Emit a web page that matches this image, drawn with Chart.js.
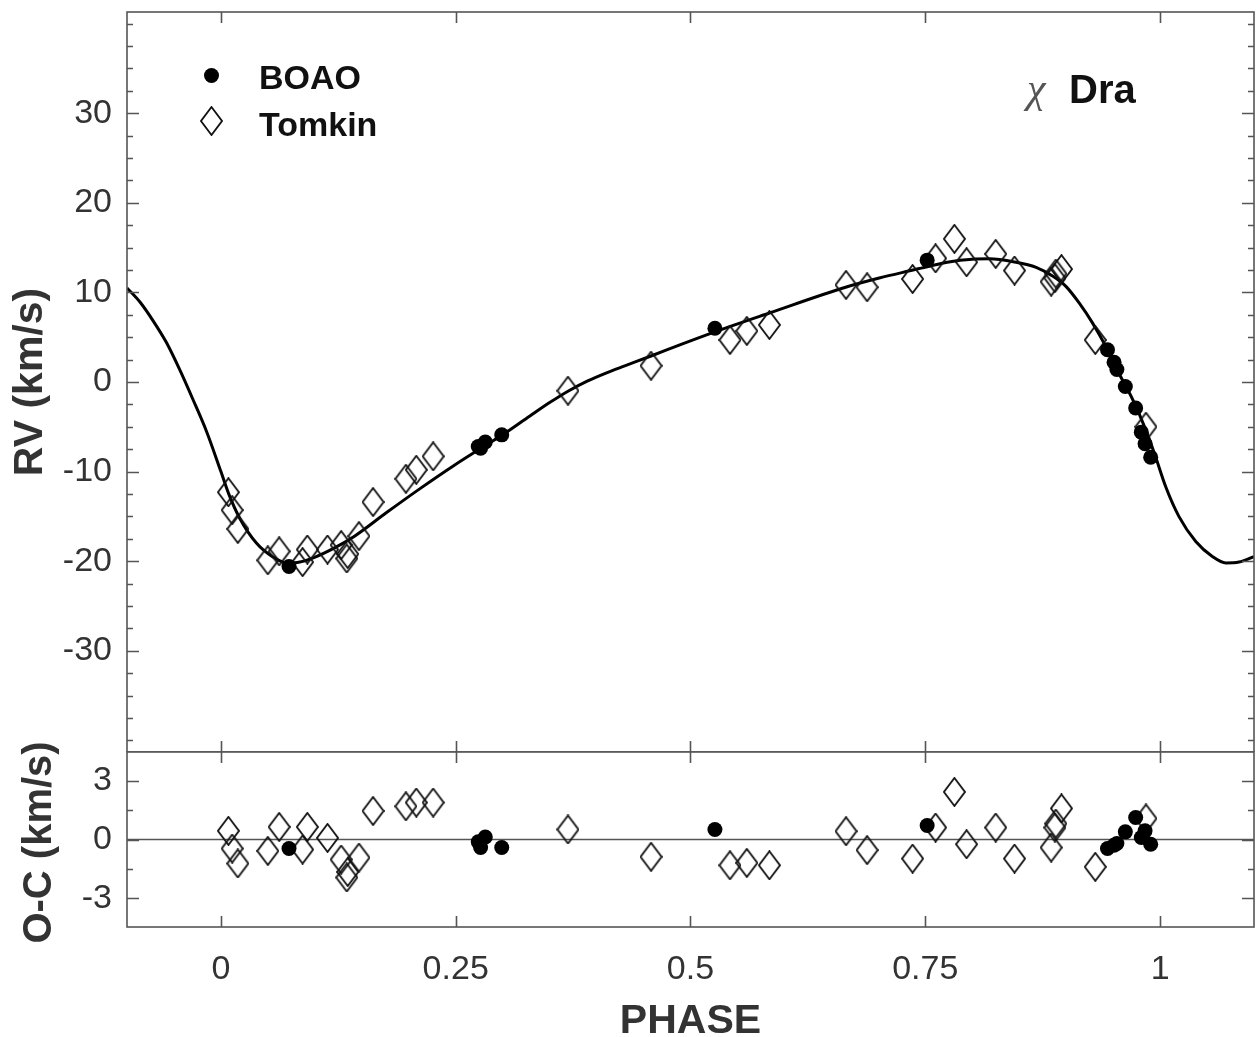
<!DOCTYPE html>
<html>
<head>
<meta charset="utf-8">
<script src="https://cdn.jsdelivr.net/npm/chart.js@4.4.1/dist/chart.umd.min.js"></script>
<style>
  html, body { margin: 0; padding: 0; background: #fff; }
  #wrap { position: relative; width: 1256px; height: 1037px; overflow: hidden; }
  #rvBox { position: absolute; left: 0; top: 0; width: 1256px; height: 752px; }
  #ocBox { position: absolute; left: 0; top: 740px; width: 1256px; height: 297px; }
</style>
</head>
<body>
<div id="wrap">
  <div id="rvBox"><canvas id="rvChart"></canvas></div>
  <div id="ocBox"><canvas id="ocChart"></canvas></div>
</div>
<script>
// axis ticks
const phaseTicks = [0, 0.25, 0.5, 0.75, 1]
const rvTicks = [-30, -20, -10, 0, 10, 20, 30]
const rvMinorTicks = [-40, -37.5, -35, -32.5, -27.5, -25, -22.5, -17.5, -15, -12.5, -7.5, -5, -2.5,
	2.5, 5, 7.5, 12.5, 15, 17.5, 22.5, 25, 27.5, 32.5, 35, 37.5, 40]
const ocTicks = [-3, 0, 3]
const ocMinorTicks = [-1.5, 1.5]

// orbit solution
const curvePhase = [-0.100, -0.086, -0.072, -0.058, -0.044, -0.030, -0.015, 0.000, 0.008, 0.020, 0.038, 0.055,
	0.070, 0.084, 0.099, 0.123, 0.141, 0.176, 0.212, 0.247, 0.283, 0.300, 0.329, 0.350, 0.370, 0.390, 0.410,
	0.430, 0.458, 0.490, 0.526, 0.584, 0.666, 0.701, 0.737, 0.753, 0.775, 0.800, 0.818, 0.845, 0.868, 0.886,
	0.900, 0.914, 0.928, 0.942, 0.956, 0.971, 0.985, 0.995, 1.006, 1.020, 1.038, 1.056, 1.070, 1.084, 1.100]
const curveRV = [10.5, 8.9, 6.8, 4.4, 1.4, -1.9, -5.6, -10.0, -12.4, -15.2, -18.0, -19.5,
	-20.2, -20.1, -19.6, -18.4, -17.3, -14.6, -11.9, -9.4, -7.0, -5.9, -3.8, -2.3, -1.0, 0.1, 1.0,
	1.8, 2.9, 4.2, 5.6, 7.7, 10.6, 11.6, 12.5, 12.9, 13.4, 13.7, 13.75, 13.4, 12.8, 11.8,
	10.65, 8.8, 6.6, 4.0, 1.0, -2.0, -5.4, -8.3, -11.7, -15.0, -17.8, -19.5, -20.2, -20.1, -19.5]

// BOAO
const boaoPhase = [0.0725, 0.274, 0.2765, 0.2815, 0.299, 0.526, 0.752, 0.944, 0.951, 0.954, 0.963, 0.974, 0.980, 0.984, 0.990]
const boaoRV = [-20.6, -7.2, -7.4, -6.7, -5.9, 6.0, 13.6, 3.6, 2.2, 1.4, -0.5, -2.9, -5.6, -6.9, -8.4]
const boaoOC = [-0.46, -0.12, -0.41, 0.13, -0.41, 0.51, 0.71, -0.46, -0.29, -0.2, 0.39, 1.12, 0.1, 0.44, -0.24]

// Tomkin
const tomkinPhase = [0.008, 0.012, 0.018, 0.050, 0.062, 0.087, 0.092, 0.1135, 0.128, 0.134, 0.135, 0.147,
	0.162, 0.197, 0.208, 0.226, 0.3695, 0.458, 0.542, 0.560, 0.584, 0.6656, 0.688, 0.7365, 0.761, 0.781,
	0.794, 0.825, 0.845, 0.884, 0.888, 0.889, 0.895, 0.931, 0.985]
const tomkinRV = [-12.3, -14.3, -16.4, -19.9, -18.9, -20.1, -18.7, -18.7, -18.2, -19.7, -19.2, -17.2,
	-13.4, -10.8, -9.8, -8.3, -0.97, 1.82, 4.69, 5.7, 6.37, 10.84, 10.58, 11.5, 13.8, 15.98,
	13.37, 14.3, 12.44, 11.2, 11.6, 12.1, 12.6, 4.69, -4.99]
const tomkinOC = [0.44, -0.46, -1.22, -0.58, 0.64, -0.51, 0.64, 0.08, -1.02, -1.93, -1.65, -0.92,
	1.45, 1.69, 1.88, 1.88, 0.51, -0.88, -1.31, -1.19, -1.31, 0.42, -0.54, -0.97, 0.61, 2.42,
	-0.24, 0.61, -0.97, -0.41, 0.61, 0.81, 1.58, -1.39, 1.07]

const zeroPhase = [-0.1, 1.1]
const zeroOC = [0, 0]

const font = '"Liberation Sans", Arial, sans-serif'
Chart.defaults.font.family = font
Chart.defaults.color = '#333'

const pairs = (xs, ys) => xs.map((x, i) => ({x: x, y: ys[i]}))

function makeDiamond(w, h, lw) {
	const c = document.createElement('canvas')
	c.width = w
	c.height = h
	const g = c.getContext('2d')
	g.strokeStyle = '#111'
	g.lineWidth = lw
	g.beginPath()
	g.moveTo(w / 2, 1)
	g.lineTo(w - 1, h / 2)
	g.lineTo(w / 2, h - 1)
	g.lineTo(1, h / 2)
	g.closePath()
	g.stroke()
	return c
}
const diamond = makeDiamond(23, 30, 1.8)

// box round the plot with inward ticks
const framePlugin = {
	id: 'frame',
	afterDatasetsDraw(chart, args, opts) {
		const {ctx, chartArea: a, scales} = chart
		ctx.save()
		ctx.strokeStyle = '#555'
		ctx.lineWidth = 1.6
		ctx.strokeRect(a.left, a.top, a.right - a.left, a.bottom - a.top)
		ctx.beginPath()
		phaseTicks.forEach(v => {
			const px = Math.round(scales.x.getPixelForValue(v)) + 0.5
			ctx.moveTo(px, a.top)
			ctx.lineTo(px, a.top + 11)
			ctx.moveTo(px, a.bottom)
			ctx.lineTo(px, a.bottom - 11)
		})
		const side = (list, len) => list.forEach(v => {
			const py = Math.round(scales.y.getPixelForValue(v)) + 0.5
			ctx.moveTo(a.left, py)
			ctx.lineTo(a.left + len, py)
			ctx.moveTo(a.right, py)
			ctx.lineTo(a.right - len, py)
		})
		side(opts.minor, 6)
		side(opts.major, 12)
		ctx.stroke()
		ctx.restore()
	}
}

// legend and star name inside the RV panel
const notesPlugin = {
	id: 'notes',
	afterDraw(chart) {
		const {ctx, chartArea: a} = chart
		ctx.save()
		ctx.fillStyle = '#000'
		ctx.beginPath()
		ctx.arc(a.left + 84.5, a.top + 63.5, 7.5, 0, Math.PI * 2)
		ctx.fill()
		ctx.drawImage(diamond, a.left + 84.5 - diamond.width / 2, a.top + 109 - diamond.height / 2)
		ctx.fillStyle = '#111'
		ctx.textBaseline = 'alphabetic'
		ctx.font = 'bold 34px ' + font
		ctx.fillText('BOAO', a.left + 132, a.top + 77)
		ctx.fillText('Tomkin', a.left + 132, a.top + 124)
		ctx.font = 'italic 42px "Liberation Serif", serif'
		ctx.fillStyle = '#555'
		ctx.fillText('\u03c7', 1027, 102)
		ctx.font = 'bold 40px ' + font
		ctx.fillStyle = '#111'
		ctx.fillText('Dra', 1069, 103)
		ctx.restore()
	}
}

// O-C axis title is taller than its panel, so it is drawn here
const ocTitlePlugin = {
	id: 'ocTitle',
	afterDraw(chart) {
		const {ctx, chartArea: a} = chart
		ctx.save()
		ctx.translate(40, (a.top + a.bottom) / 2 + 3)
		ctx.rotate(-Math.PI / 2)
		ctx.font = 'bold 40px ' + font
		ctx.fillStyle = '#333'
		ctx.textAlign = 'center'
		ctx.textBaseline = 'middle'
		ctx.fillText('O-C (km/s)', 0, 0)
		ctx.restore()
	}
}

const fixedTicks = list => s => { s.ticks = list.map(v => ({value: v})) }
const yFit = s => { s.width = 127; s.paddingTop = 0; s.paddingBottom = 0 }
const tickFont = {size: 34}
const noGrid = {display: false, drawTicks: false}

new Chart(document.getElementById('rvChart'), {
	type: 'scatter',
	data: {
		datasets: [{
			label: 'BOAO',
			data: pairs(boaoPhase, boaoRV),
			pointStyle: 'circle',
			pointRadius: 7.5,
			backgroundColor: '#000',
			borderWidth: 0
		}, {
			label: 'Tomkin',
			data: pairs(tomkinPhase, tomkinRV),
			pointStyle: diamond,
			pointRadius: 11
		}, {
			label: 'orbit',
			data: pairs(curvePhase, curveRV),
			showLine: true,
			pointRadius: 0,
			borderColor: '#000',
			borderWidth: 3,
			cubicInterpolationMode: 'monotone'
		}]
	},
	options: {
		responsive: true,
		maintainAspectRatio: false,
		animation: false,
		layout: {autoPadding: false, padding: {top: 12, right: 2, bottom: 0, left: 0}},
		plugins: {
			legend: {display: false},
			tooltip: {enabled: false},
			frame: {major: rvTicks, minor: rvMinorTicks}
		},
		scales: {
			x: {type: 'linear', min: -0.1, max: 1.1, display: false},
			y: {
				min: -41.3, max: 41.3,
				grid: noGrid,
				border: {display: false},
				afterBuildTicks: fixedTicks(rvTicks),
				afterFit: yFit,
				ticks: {padding: 15, font: tickFont, color: '#333', callback: v => String(v)},
				title: {display: true, text: 'RV (km/s)', color: '#333',
					font: {size: 41, weight: 'bold', lineHeight: 1}, padding: {top: 10, bottom: 0}}
			}
		}
	},
	plugins: [framePlugin, notesPlugin]
})

new Chart(document.getElementById('ocChart'), {
	type: 'scatter',
	data: {
		datasets: [{
			label: 'BOAO',
			data: pairs(boaoPhase, boaoOC),
			pointStyle: 'circle',
			pointRadius: 7.5,
			backgroundColor: '#000',
			borderWidth: 0
		}, {
			label: 'Tomkin',
			data: pairs(tomkinPhase, tomkinOC),
			pointStyle: diamond,
			pointRadius: 11
		}, {
			label: 'zero',
			data: pairs(zeroPhase, zeroOC),
			showLine: true,
			pointRadius: 0,
			borderColor: '#555',
			borderWidth: 1.5
		}]
	},
	options: {
		responsive: true,
		maintainAspectRatio: false,
		animation: false,
		layout: {autoPadding: false, padding: {top: 12, right: 2, bottom: 0, left: 0}},
		plugins: {
			legend: {display: false},
			tooltip: {enabled: false},
			frame: {major: ocTicks, minor: ocMinorTicks}
		},
		scales: {
			x: {
				type: 'linear', min: -0.1, max: 1.1,
				grid: noGrid,
				border: {display: false},
				afterBuildTicks: fixedTicks(phaseTicks),
				afterFit: s => { s.height = 110; s.paddingLeft = 0; s.paddingRight = 0 },
				ticks: {padding: 22, font: tickFont, color: '#333', maxRotation: 0, autoSkip: false, callback: v => String(v)},
				title: {display: true, text: 'PHASE', color: '#333',
					font: {size: 41, weight: 'bold', lineHeight: 1}, padding: {top: 0, bottom: -5}}
			},
			y: {
				min: -4.45, max: 4.45,
				grid: noGrid,
				border: {display: false},
				afterBuildTicks: fixedTicks(ocTicks),
				afterFit: yFit,
				ticks: {padding: 15, font: tickFont, color: '#333', callback: v => String(v)}
			}
		}
	},
	plugins: [framePlugin, ocTitlePlugin]
})
</script>
</body>
</html>
